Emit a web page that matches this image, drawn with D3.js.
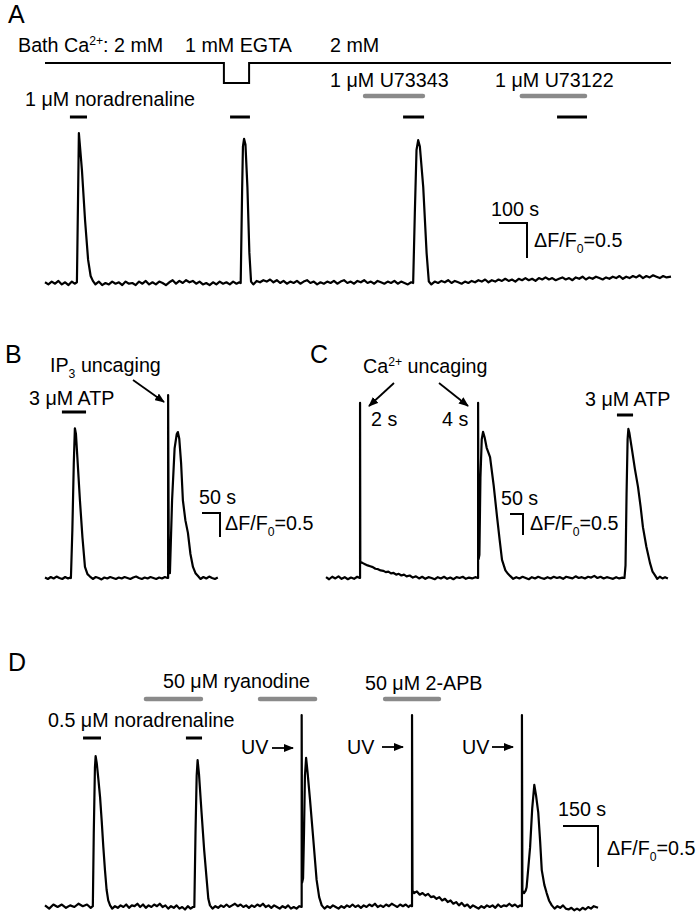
<!DOCTYPE html>
<html>
<head>
<meta charset="utf-8">
<script src="https://d3js.org/d3.v7.min.js"></script>
<style>
html,body{margin:0;padding:0;background:#fff;}
svg text{font-family:"Liberation Sans",Arial,Helvetica,sans-serif;fill:#000;}
</style>
</head>
<body>
<svg id="fig" width="696" height="915" xmlns="http://www.w3.org/2000/svg"></svg>
<script>
// ================= DATA (time in s, value in ΔF/F0) =================
// ---- Panel A ----
const traceA = [
[0,0.01],[12,-0.02],[24,0.02],[36,-0.01],[48,0.03],[60,-0.02],[72,0.01],[84,-0.03],[96,0.02],[106,-0.01],[114,0.01],
[118,1.2],[121,2.14],[124,2.0],[132,1.61],[143,0.9],[154,0.33],[163,0.1],[171,0.03],
[180,-0.02],[192,0.02],[204,-0.03],[216,0.0],[228,-0.02],[240,0.02],[252,-0.01],[264,0.01],[276,-0.03],[288,0.02],[300,-0.01],[312,0.0],[324,-0.03],[336,0.02],[348,-0.01],[360,0.03],[372,-0.02],[384,0.01],[396,-0.02],[408,0.02],[420,0.0],[432,-0.03],[444,0.01],[456,0.04],[468,-0.01],[480,0.03],[492,0.0],[504,0.04],[516,0.01],[528,0.03],[540,-0.01],[552,0.02],[564,-0.02],[576,0.0],[588,-0.03],[600,0.01],[612,-0.02],[624,0.02],[636,-0.01],[648,0.01],[660,-0.02],[672,0.02],[684,-0.01],[694,0.01],[699,0.0],
[704,1.3],[707,1.95],[711,2.06],[716,1.98],[723,1.37],[730,0.43],[736,0.02],
[744,-0.02],[756,0.03],[768,0.01],[780,0.04],[792,0.02],[804,0.05],[816,0.01],[828,0.04],[840,0.0],[852,0.03],[864,-0.01],[876,0.02],[888,0.0],[900,0.03],[912,-0.01],[924,0.02],[936,0.04],[948,0.0],[960,0.02],[972,-0.02],[984,0.01],[996,-0.01],[1008,0.02],[1020,0.0],[1032,0.03],[1044,-0.01],[1056,0.02],[1068,0.04],[1080,0.0],[1092,0.02],[1104,-0.01],[1116,0.03],[1128,0.01],[1140,0.04],[1152,0.0],[1164,0.02],[1176,-0.01],[1188,0.03],[1200,0.01],[1212,-0.01],[1224,0.02],[1236,0.0],[1248,0.03],[1260,-0.01],[1272,0.02],[1284,0.0],[1296,-0.02],[1308,0.01],[1315,0.0],
[1321,1.0],[1327,1.9],[1333,2.04],[1339,1.95],[1351,1.37],[1363,0.43],[1371,0.02],
[1380,-0.02],[1392,0.02],[1404,0.0],[1416,0.03],[1428,0.01],[1440,0.04],[1452,0.0],[1464,0.03],[1476,0.01],[1488,-0.01],[1500,0.02],[1512,0.0],[1524,0.03],[1536,0.01],[1548,0.04],[1560,0.02],[1572,0.05],[1584,0.01],[1596,0.04],[1608,0.02],[1620,0.05],[1632,0.03],[1644,0.06],[1656,0.03],[1668,0.05],[1680,0.02],[1692,0.06],[1704,0.04],[1716,0.07],[1728,0.04],[1740,0.06],[1752,0.03],[1764,0.07],[1776,0.05],[1788,0.08],[1800,0.05],[1812,0.07],[1824,0.04],[1836,0.06],[1848,0.08],[1860,0.05],[1872,0.07],[1884,0.04],[1896,0.08],[1908,0.06],[1920,0.09],[1932,0.05],[1944,0.08],[1956,0.06],[1968,0.09],[1980,0.07],[1992,0.05],[2004,0.08],[2016,0.06],[2028,0.09],[2040,0.07],[2052,0.1],[2064,0.06],[2076,0.09],[2088,0.07],[2100,0.1],[2112,0.08],[2124,0.11],[2136,0.07],[2148,0.1],[2160,0.08],[2172,0.11],[2184,0.09],[2196,0.07],[2208,0.1],[2220,0.08],[2236,0.09]
];
const bathA = [[0,2],[639,2],[639,0],[729,0],[729,2],[2236,2]];       // bath Ca2+ (mM) schematic
const noradBarsA = [[89,150],[661,732],[1279,1354],[1829,1936]];       // 1 µM noradrenaline
const inhibBarsA = [[1136,1357],[1696,1936]];                          // U73343, U73122
const scaleBarA = [100, 0.5];

// ---- Panel B ----
const traceB = [
[0,0.01],[8,-0.02],[16,0.02],[24,-0.01],[32,0.03],[40,0.0],[48,-0.02],[56,0.02],[64,-0.01],[70,0.01],
[72,0.0],[76,1.0],[80,2.4],[83,3.12],[86,3.0],[90,2.5],[97,1.62],[104,0.85],[111,0.23],[118,0.08],[125,0.03],
[133,-0.02],[141,0.02],[149,0.0],[157,-0.03],[165,0.01],[173,-0.01],[181,0.02],[189,0.0],[197,-0.02],[205,0.01],[213,-0.01],[221,0.02],[229,0.0],[237,-0.02],[245,0.01],[253,0.03],[261,0.0],[269,-0.02],[277,0.01],[285,-0.01],[293,0.02],[301,0.0],[309,-0.02],[317,0.01],[325,-0.01],[333,0.02],[340,0.0],
[342,0.0],[342,3.81],[344,0.1],
[347,0.1],[353,1.62],[360,2.7],[366,3.0],[369,3.04],[373,2.9],[378,2.4],[383,1.62],[390,1.2],[397,0.94],[404,0.5],[411,0.23],[418,0.1],[425,0.04],
[432,-0.02],[440,0.02],[448,-0.01],[456,0.03],[464,0.0],[472,-0.02],[480,0.01]
];
const atpBarsB = [[47,114]];
const scaleBarB = [50, 0.5];

// ---- Panel C ----
const traceC = [
[0,0.02],[12,-0.03],[24,0.03],[36,-0.01],[48,0.04],[60,-0.02],[72,0.02],[84,-0.03],[96,0.01],[108,-0.02],[120,0.03],[130,0.0],
[131,0.0],[131,4.17],[132,0.38],
[140,0.36],[150,0.33],[160,0.3],[170,0.28],[180,0.26],[190,0.22],[200,0.21],[210,0.18],[220,0.17],[230,0.14],[240,0.15],[250,0.11],[260,0.12],[270,0.08],[280,0.1],[290,0.06],[300,0.08],[310,0.04],[322,0.06],[334,0.01],[346,0.04],[358,-0.01],[370,0.03],[382,-0.02],[394,0.02],[406,0.0],[418,-0.03],[430,0.02],[442,-0.01],[454,0.03],[466,-0.02],[478,0.01],[490,-0.03],[502,0.02],[514,0.0],[526,0.03],[538,-0.02],[550,0.01],[562,-0.01],[574,0.02],[584,0.0],
[585,0.0],[585,4.17],[587,0.45],[590,0.55],[594,2.4],[599,3.3],[604,3.48],[610,3.35],[618,3.1],[631,2.88],[645,2.2],[658,1.45],[668,0.9],[677,0.43],[690,0.18],[700,0.1],[708,0.05],
[720,-0.02],[732,0.02],[744,-0.01],[756,0.03],[768,0.0],[780,-0.03],[792,0.02],[804,-0.01],[816,0.03],[828,0.0],[840,-0.02],[852,0.02],[864,-0.01],[876,0.03],[888,0.0],[900,0.02],[912,-0.02],[924,0.03],[936,0.01],[948,-0.01],[960,0.04],[972,0.0],[984,0.02],[996,-0.01],[1008,0.03],[1020,0.01],[1032,0.05],[1044,0.0],[1056,0.03],[1068,-0.01],[1080,0.02],[1092,0.0],[1104,-0.02],[1116,0.02],[1128,-0.01],[1140,0.01],[1148,0.0],
[1152,0.3],[1156,2.0],[1160,3.3],[1163,3.55],[1167,3.45],[1177,3.05],[1188,2.6],[1200,2.17],[1210,1.7],[1219,1.21],[1232,0.75],[1246,0.36],[1256,0.15],[1265,0.07],
[1274,-0.02],[1284,0.03],[1294,-0.01],[1304,0.02],[1315,-0.01]
];
const atpBarsC = [[1119,1181]];
const scaleBarC = [50, 0.5];

// ---- Panel D ----
const traceD = [
[0,0.02],[18,-0.02],[36,0.03],[54,0.0],[72,0.03],[90,-0.01],[108,0.02],[126,0.0],[144,0.04],[162,0.01],[180,0.03],[196,-0.01],[205,0.01],
[209,0.9],[214,1.7],[217,1.84],[222,1.75],[229,1.55],[236,1.34],[243,1.05],[250,0.73],[257,0.45],[264,0.21],[271,0.08],[279,0.02],
[288,-0.02],[300,0.01],[312,-0.01],[324,0.02],[336,0.0],[348,0.03],[360,-0.01],[372,0.02],[384,0.01],[396,0.04],[408,0.0],[420,0.03],[432,-0.01],[444,0.02],[456,0.0],[468,0.03],[480,0.01],[492,0.04],[504,0.0],[516,0.02],[528,-0.02],[540,0.01],[552,-0.01],[564,0.02],[576,-0.02],[588,0.0],[600,-0.03],[612,0.01],[624,-0.02],[634,0.0],[640,0.0],
[645,0.9],[650,1.6],[654,1.79],[660,1.62],[671,1.15],[682,0.7],[693,0.33],[700,0.1],[707,0.02],
[718,-0.02],[730,0.01],[742,-0.01],[754,0.02],[766,0.0],[778,0.03],[790,0.0],[802,0.02],[814,0.04],[826,0.01],[838,0.03],[850,0.0],[862,0.02],[874,-0.01],[886,0.02],[898,0.0],[910,0.03],[922,0.01],[934,0.04],[946,0.0],[958,0.02],[970,-0.01],[982,0.02],[994,0.0],[1006,-0.02],[1018,0.01],[1030,-0.01],[1042,0.02],[1054,-0.02],[1066,0.0],[1078,-0.02],[1090,0.01],[1099,0.0],
[1100,0.0],[1100,2.34],[1102,0.3],[1106,0.35],[1110,0.9],[1114,1.6],[1119,1.82],[1125,1.65],[1136,1.3],[1150,0.82],[1164,0.33],[1175,0.12],[1186,0.02],
[1198,-0.02],[1210,0.01],[1222,-0.01],[1234,0.02],[1246,0.0],[1258,-0.02],[1270,0.01],[1282,-0.01],[1294,0.02],[1306,0.0],[1318,0.03],[1330,0.0],[1342,0.02],[1354,-0.01],[1366,0.02],[1378,0.0],[1390,0.03],[1402,0.01],[1414,0.04],[1426,0.0],[1438,0.02],[1450,0.0],[1462,0.03],[1474,0.01],[1486,0.04],[1498,0.02],[1510,0.0],[1522,0.03],[1534,0.01],[1546,0.03],[1558,0.0],[1566,0.02],[1572,0.01],
[1573,0.01],[1573,2.34],[1575,0.2],[1582,0.17],[1594,0.19],[1606,0.15],[1618,0.17],[1630,0.14],[1642,0.16],[1654,0.12],[1666,0.13],[1678,0.1],[1690,0.12],[1702,0.08],[1714,0.1],[1726,0.06],[1738,0.08],[1750,0.04],[1762,0.06],[1774,0.02],[1786,0.05],[1798,0.01],[1810,0.03],[1822,-0.01],[1834,0.02],[1846,0.0],[1858,-0.02],[1870,0.01],[1882,-0.01],[1894,0.02],[1906,0.0],[1918,0.02],[1930,-0.01],[1942,0.03],[1954,0.0],[1966,0.02],[1978,0.01],[1990,0.04],[2002,0.01],[2014,0.03],[2026,0.0],[2036,0.02],[2043,0.01],
[2044,0.01],[2044,2.34],[2046,0.2],[2053,0.17],[2060,0.2],[2064,0.24],[2072,0.5],[2079,0.73],[2088,1.2],[2097,1.49],[2105,1.35],[2114,1.15],[2122,0.8],[2129,0.45],[2140,0.27],[2150,0.17],[2160,0.08],[2172,0.02],
[2184,-0.02],[2196,0.01],[2208,-0.01],[2220,0.02],[2232,-0.02],[2244,-0.03],[2256,-0.01],[2268,-0.04],[2280,-0.02],[2292,-0.04],[2304,-0.01],[2316,-0.03],[2328,0.0],[2340,-0.02],[2352,0.01],[2370,-0.01]
];
const noradBarsD = [[163,240],[604,673]];        // 0.5 µM noradrenaline
const ryanBarsD = [[424,677],[913,1166]];        // 50 µM ryanodine
const apbBarsD = [[1449,1697]];                  // 50 µM 2-APB
const scaleBarD = [150, 0.5];

// ================= DRAWING =================
const svg = d3.select("#fig");
svg.append("rect").attr("width",696).attr("height",915).attr("fill","#fff");
const defs = svg.append("defs");
defs.append("marker").attr("id","ah").attr("viewBox","0 0 10 8").attr("refX",9).attr("refY",4)
  .attr("markerWidth",10).attr("markerHeight",8).attr("markerUnits","userSpaceOnUse").attr("orient","auto")
  .append("path").attr("d","M0,0L10,4L0,8Z").attr("fill","#000");

const FS = 19.7;
function label(x, y, str, size) {
  size = size || FS;
  const t = svg.append("text").attr("x", x).attr("y", y).attr("font-size", size);
  const parts = str.split(/(\^\{[^}]*\}|_\{[^}]*\})/).filter(s => s.length);
  let prev = 0;
  parts.forEach(p => {
    let dy = 0, fs = null, txt = p;
    if (p.startsWith("^{")) { txt = p.slice(2, -1); dy = -size * 0.38; fs = size * 0.62; }
    else if (p.startsWith("_{")) { txt = p.slice(2, -1); dy = size * 0.3; fs = size * 0.62; }
    const ts = t.append("tspan").text(txt).attr("dy", dy - prev);
    if (fs) ts.attr("font-size", fs);
    prev = dy;
  });
  return t;
}
function trace(data, x, y) {
  svg.append("path").datum(data)
    .attr("d", d3.line().x(d => x(d[0])).y(d => y(d[1])))
    .attr("fill", "none").attr("stroke", "#000").attr("stroke-width", 2.2)
    .attr("stroke-linejoin", "round");
}
function bars(list, x, yPos, gray) {
  svg.append("g").selectAll("line").data(list).enter().append("line")
    .attr("x1", d => x(d[0]) + (gray ? 2 : 0)).attr("x2", d => x(d[1]) - (gray ? 2 : 0))
    .attr("y1", yPos).attr("y2", yPos)
    .attr("stroke", gray ? "#8a8a8a" : "#000")
    .attr("stroke-width", gray ? 4.5 : 3)
    .attr("stroke-linecap", gray ? "round" : "butt");
}
function scaleBar(sb, x, y, cx, cy) {
  const w = x(sb[0]) - x(0), h = y(0) - y(sb[1]);
  svg.append("path").attr("d", `M${cx - w},${cy}H${cx}V${cy + h}`)
    .attr("fill", "none").attr("stroke", "#000").attr("stroke-width", 2);
}
function arrow(x1, y1, x2, y2) {
  svg.append("line").attr("x1", x1).attr("y1", y1).attr("x2", x2).attr("y2", y2)
    .attr("stroke", "#000").attr("stroke-width", 1.8).attr("marker-end", "url(#ah)");
}

// ---------- Panel A ----------
const xA = d3.scaleLinear().domain([0, 2236]).range([45, 671]);
const yA = d3.scaleLinear().domain([0, 0.5]).range([283, 248]);
const yBath = d3.scaleLinear().domain([0, 2]).range([83, 63]);
label(8, 23, "A", 25);
label(18, 52, "Bath Ca^{2+}: 2 mM");
label(185, 52, "1 mM EGTA");
label(330, 52, "2 mM");
svg.append("path").datum(bathA)
  .attr("d", d3.line().x(d => xA(d[0])).y(d => yBath(d[1])))
  .attr("fill", "none").attr("stroke", "#000").attr("stroke-width", 2);
label(330, 87, "1 \u03BCM U73343");
label(495, 87, "1 \u03BCM U73122");
bars(inhibBarsA, xA, 96, true);
label(25, 106, "1 \u03BCM noradrenaline");
bars(noradBarsA, xA, 117, false);
trace(traceA, xA, yA);
scaleBar(scaleBarA, xA, yA, 527, 223);
label(491, 216, "100 s");
label(534, 247, "\u0394F/F_{0}=0.5");

// ---------- Panel B ----------
const xB = d3.scaleLinear().domain([0, 480]).range([45, 217.8]);
const yB = d3.scaleLinear().domain([0, 0.5]).range([578, 554]);
label(5, 363, "B", 25);
label(50, 372, "IP_{3} uncaging");
arrow(133, 380, 164, 402);
label(29, 405, "3 \u03BCM ATP");
bars(atpBarsB, xB, 412, false);
trace(traceB, xB, yB);
scaleBar(scaleBarB, xB, yB, 220, 513);
label(199, 504, "50 s");
label(225, 530, "\u0394F/F_{0}=0.5");

// ---------- Panel C ----------
const xC = d3.scaleLinear().domain([0, 1315]).range([326, 667.9]);
const yC = d3.scaleLinear().domain([0, 0.5]).range([578, 557]);
label(310, 363, "C", 25);
label(363, 373, "Ca^{2+} uncaging");
arrow(394, 383, 369, 406);
arrow(439, 383, 468, 406);
label(371, 426, "2 s");
label(442, 426, "4 s");
label(585, 406, "3 \u03BCM ATP");
bars(atpBarsC, xC, 415, false);
trace(traceC, xC, yC);
scaleBar(scaleBarC, xC, yC, 523, 514);
label(501, 505, "50 s");
label(530, 530, "\u0394F/F_{0}=0.5");

// ---------- Panel D ----------
const xD = d3.scaleLinear().domain([0, 2370]).range([45, 598]);
const yD = d3.scaleLinear().domain([0, 0.5]).range([907, 866]);
label(8, 671, "D", 25);
label(163, 688, "50 \u03BCM ryanodine");
label(365, 690, "50 \u03BCM 2-APB");
bars(ryanBarsD, xD, 699, true);
bars(apbBarsD, xD, 699, true);
label(48, 727, "0.5 \u03BCM noradrenaline");
bars(noradBarsD, xD, 738, false);
label(241, 754, "UV");
arrow(272, 748, 293, 748);
label(347, 754, "UV");
arrow(382, 747, 403, 747);
label(462, 754, "UV");
arrow(492, 747, 513, 747);
trace(traceD, xD, yD);
scaleBar(scaleBarD, xD, yD, 598, 826);
label(558, 816, "150 s");
label(607, 855, "\u0394F/F_{0}=0.5");
</script>
</body>
</html>
